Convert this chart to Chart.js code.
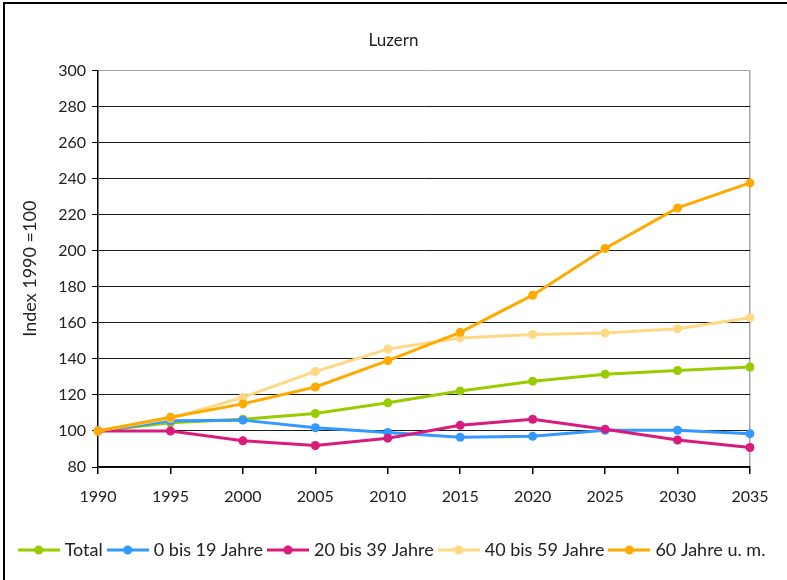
<!DOCTYPE html>
<html>
<head>
<meta charset="utf-8">
<script src="https://cdn.jsdelivr.net/npm/chart.js@4/dist/chart.umd.min.js"></script>
<style>
  html, body { margin: 0; padding: 0; background: #fff; }
  #wrap { width: 787px; height: 580px; }
</style>
</head>
<body>
<div id="wrap"><canvas id="myChart" width="787" height="580"></canvas></div>
<script>
// --- data ---
const years = ['1990', '1995', '2000', '2005', '2010', '2015', '2020', '2025', '2030', '2035'];
const seriesNames = ['Total', '0 bis 19 Jahre', '20 bis 39 Jahre', '40 bis 59 Jahre', '60 Jahre u. m.'];
const total   = [100, 104.5, 106.5, 109.7, 115.6, 122.2, 127.6, 131.5, 133.5, 135.5];
const age0    = [100, 105.6, 106, 101.8, 99.2, 96.5, 97, 100.4, 100.4, 98.5];
const age20   = [100, 100, 94.5, 91.9, 96, 103.1, 106.5, 101, 95, 90.8];
const age40   = [100, 107, 118.6, 133, 145.4, 151.6, 153.5, 154.3, 156.7, 162.8];
const age60   = [100, 107.6, 115, 124.4, 139, 154.7, 175.3, 201.2, 223.7, 237.6];
const yTicks  = [80, 100, 120, 140, 160, 180, 200, 220, 240, 260, 280, 300];

const colors = ['#99cc00', '#3399ff', '#d81b7d', '#ffd884', '#ffaa00'];
const FONT = 'Lato, "Open Sans", sans-serif';

// legend marker: short line with a dot in the middle
function legendMarker(color) {
  const c = document.createElement('canvas');
  c.width = 42; c.height = 10;
  const g = c.getContext('2d');
  g.strokeStyle = color;
  g.lineWidth = 3;
  g.beginPath(); g.moveTo(0, 5); g.lineTo(42, 5); g.stroke();
  g.fillStyle = color;
  g.beginPath(); g.arc(21, 5, 4.5, 0, Math.PI * 2); g.fill();
  return c;
}

// white background + the frame lines on top and left
const frame = {
  id: 'frame',
  beforeDraw(chart) {
    const ctx = chart.ctx;
    ctx.save();
    ctx.fillStyle = '#fff';
    ctx.fillRect(0, 0, chart.width, chart.height);
    ctx.strokeStyle = '#000';
    ctx.lineWidth = 2;
    ctx.beginPath();
    ctx.moveTo(4, chart.height);
    ctx.lineTo(4, 3);
    ctx.lineTo(chart.width, 3);
    ctx.stroke();
    ctx.restore();
  }
};

const allSeries = [total, age0, age20, age40, age60];
const datasets = allSeries.map((data, i) => ({
  label: seriesNames[i],
  data: data,
  borderColor: colors[i],
  backgroundColor: colors[i],
  pointBackgroundColor: colors[i],
  pointBorderColor: colors[i],
  borderWidth: 3,
  pointRadius: 4.5,
  pointBorderWidth: 0,
  tension: 0,
  order: allSeries.length - i
}));

const ctx = document.getElementById('myChart').getContext('2d');
new Chart(ctx, {
  type: 'line',
  data: { labels: years, datasets: datasets },
  plugins: [frame],
  options: {
    responsive: false,
    animation: false,
    layout: { padding: { left: 0, right: 0, top: 0, bottom: 11 } },
    scales: {
      x: {
        offset: false,
        grid: {
          color: (c) => c.index === years.length - 1 ? '#a6a6a6' : 'rgba(0,0,0,0)',
          tickColor: '#000',
          tickLength: 7,
          lineWidth: 1.5
        },
        border: { color: '#000', width: 1.5 },
        ticks: { color: '#222', font: { family: FONT, size: 16 }, padding: 13, maxRotation: 0 },
        afterFit: (scale) => { scale.height = 66; }
      },
      y: {
        min: 80,
        max: 300,
        afterBuildTicks: (scale) => { scale.ticks = yTicks.map(v => ({ value: v })); },
        grid: {
          color: (c) => c.tick && c.tick.value === 300 ? '#a6a6a6' : '#1a1a1a',
          tickColor: '#000',
          tickLength: 6,
          lineWidth: 1
        },
        border: { color: '#000', width: 1.5 },
        ticks: { color: '#222', font: { family: FONT, size: 16 }, padding: 6 },
        title: {
          display: true,
          text: 'Index 1990 =100',
          color: '#222',
          font: { family: FONT, size: 18 },
          padding: { top: 19, bottom: 0 }
        },
        afterFit: (scale) => { scale.width = 98; }
      },
      // empty right-hand axis that only reserves the space right of the plot
      yRight: {
        position: 'right',
        min: 80,
        max: 300,
        grid: { display: false, drawTicks: false },
        border: { display: false },
        ticks: { display: false },
        afterFit: (scale) => { scale.width = 37; }
      }
    },
    plugins: {
      title: {
        display: true,
        text: 'Luzern',
        color: '#222',
        font: { family: FONT, size: 17, weight: 'normal' },
        padding: { top: 30, bottom: 20 }
      },
      legend: {
        position: 'bottom',
        labels: {
          usePointStyle: true,
          pointStyleWidth: 34,
          color: '#222',
          font: { family: FONT, size: 18 },
          padding: 8,
          sort: (a, b) => a.datasetIndex - b.datasetIndex,
          generateLabels: (chart) => {
            const items = Chart.defaults.plugins.legend.labels.generateLabels(chart);
            items.forEach(it => { it.pointStyle = legendMarker(colors[it.datasetIndex]); });
            return items;
          }
        }
      },
      tooltip: { enabled: false }
    }
  }
});
</script>
</body>
</html>
